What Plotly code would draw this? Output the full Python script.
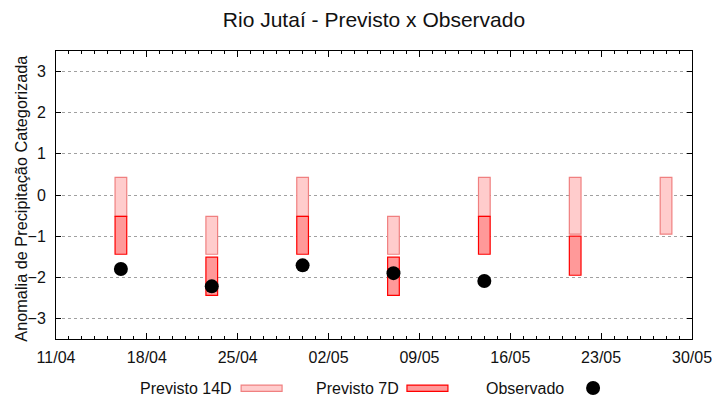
import plotly.graph_objects as go

# ---- data ----
dates = ["2024-04-16", "2024-04-23", "2024-04-30", "2024-05-07",
         "2024-05-14", "2024-05-21", "2024-05-28"]
top_14d = [0.43, -0.52, 0.43, -0.52, 0.43, 0.43, 0.43]
bot_14d = [-0.52, -1.44, -0.52, -1.44, -0.52, -0.95, -0.95]
top_7d = [-0.52, -1.51, -0.52, -1.51, -0.52, -1.00, None]
bot_7d = [-1.44, -2.44, -1.44, -2.44, -1.44, -1.95, None]
observado = [-1.80, -2.22, -1.71, -1.90, -2.09, None, None]

y_ticks = [-3, -2, -1, 0, 1, 2, 3]
x_range = ["2024-04-11", "2024-05-30"]

title_text = "Rio Jutaí - Previsto x Observado"
y_title = "Anomalia de Precipitação Categorizada"
legend_labels = ["Previsto 14D", "Previsto 7D", "Observado"]

# ---- style ----
FONT = "Liberation Sans, Arial, sans-serif"
C14_FILL, C14_LINE = "#ffcccc", "#f08080"
C7_FILL, C7_LINE = "#ff9999", "#ff0000"
DAY = 86400000

# page body has an 8px default margin -> figure drawn at (8, 8)
OFF = 8
W, H = 720 - OFF, 400 - OFF
L, R, T, B = 55.7 - OFF, 27.7, 51.3 - OFF, 61
PW, PH = W - L - R, H - T - B


def px_x(p):
    return (p - OFF - L) / PW


def px_y(p):
    return (H - B - (p - OFF)) / PH


fig = go.Figure()

fig.add_trace(go.Bar(
    x=dates,
    y=[t - b for t, b in zip(top_14d, bot_14d)],
    base=bot_14d,
    width=[0.9 * DAY] * len(dates),
    marker=dict(color=C14_FILL, line=dict(color=C14_LINE, width=1.2)),
    showlegend=False, hoverinfo="skip",
))

d7 = [d for d, t in zip(dates, top_7d) if t is not None]
t7 = [t for t in top_7d if t is not None]
b7 = [b for b in bot_7d if b is not None]
fig.add_trace(go.Bar(
    x=d7,
    y=[t - b for t, b in zip(t7, b7)],
    base=b7,
    width=[0.9 * DAY] * len(d7),
    marker=dict(color=C7_FILL, line=dict(color=C7_LINE, width=1.2)),
    showlegend=False, hoverinfo="skip",
))

do = [d for d, o in zip(dates, observado) if o is not None]
vo = [o for o in observado if o is not None]
fig.add_trace(go.Scatter(
    x=do, y=vo, mode="markers",
    marker=dict(color="black", size=14, line=dict(width=0)),
    showlegend=False, hoverinfo="skip",
))

# ---- manual legend (text then key, gnuplot-like) ----
ly = px_y(388)
annotations = []
shapes = []
items = [
    (legend_labels[0], 234, ("rect", 241, 282, C14_FILL, C14_LINE)),
    (legend_labels[1], 401, ("rect", 407, 448, C7_FILL, C7_LINE)),
    (legend_labels[2], 566, ("dot", 593.3, None, "black", None)),
]
for label, text_right, key in items:
    annotations.append(dict(
        text=label, x=px_x(text_right), y=ly, xref="paper", yref="paper",
        xanchor="right", yanchor="middle", showarrow=False,
        font=dict(family=FONT, size=16, color="#111111"),
    ))
    if key[0] == "rect":
        shapes.append(dict(
            type="rect", xref="paper", yref="paper",
            x0=px_x(key[1]), x1=px_x(key[2]),
            y0=px_y(391.3), y1=px_y(385),
            fillcolor=key[3], line=dict(color=key[4], width=1.2),
        ))
    else:
        shapes.append(dict(
            type="circle", xref="paper", yref="paper",
            xsizemode="pixel", ysizemode="pixel",
            xanchor=px_x(key[1]), yanchor=ly,
            x0=-7, x1=7, y0=-7, y1=7,
            fillcolor="black", line=dict(width=0),
        ))

# y-axis title as rotated annotation (gnuplot places it at x~20px)
annotations.append(dict(
    text=y_title, x=px_x(20.5), y=px_y(198), xref="paper", yref="paper",
    xanchor="center", yanchor="middle", textangle=-90, showarrow=False,
    font=dict(family=FONT, size=16.3, color="#111111"),
))

fig.update_layout(
    width=W, height=H,
    margin=dict(l=L, r=R, t=T, b=B, autoexpand=False),
    paper_bgcolor="white", plot_bgcolor="white",
    barmode="overlay",
    font=dict(family=FONT, size=16, color="#111111"),
    title=dict(text=title_text, x=0.5, xref="paper", xanchor="center",
               y=1 - (20 - OFF) / H, yref="container", yanchor="middle",
               font=dict(family=FONT, size=21, color="#111111")),
    annotations=annotations,
    shapes=shapes,
    xaxis=dict(
        type="date", range=x_range, tickformat="%d/%m",
        tick0=x_range[0], dtick=7 * DAY,
        ticks="inside", ticklen=6, tickcolor="black", tickwidth=1,
        showline=True, linecolor="black", linewidth=1, mirror="ticks",
        showgrid=False, zeroline=False,
        minor=dict(ticks="inside", ticklen=3, dtick=DAY, tick0=x_range[0],
                   tickcolor="black", showgrid=False),
        tickfont=dict(family=FONT, size=16, color="#111111"),
        ticklabelstandoff=4,
    ),
    yaxis=dict(
        range=[-3.5, 3.5], tickvals=y_ticks,
        ticks="inside", ticklen=5, tickcolor="black", tickwidth=1,
        showline=True, linecolor="black", linewidth=1, mirror="ticks",
        showgrid=True, gridcolor="#a0a0a0", griddash="dot", gridwidth=1,
        zeroline=False,
        tickfont=dict(family=FONT, size=16, color="#111111"),
        ticklabelstandoff=6,
    ),
)

fig.write_html("out.html")
